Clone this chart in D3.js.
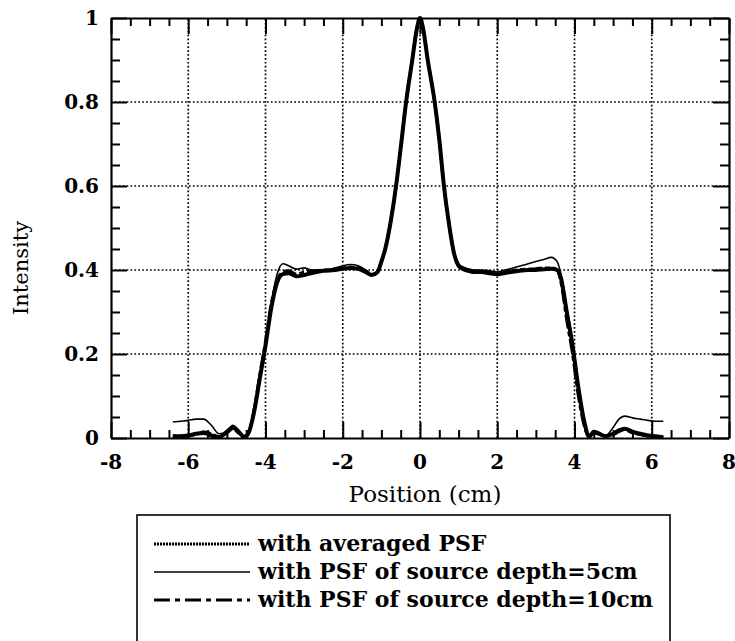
<!DOCTYPE html>
<html>
<head>
<meta charset="utf-8">
<script src="https://cdn.jsdelivr.net/npm/d3@7"></script>
<style>
  body { margin: 0; background: #fff; }
  svg { display: block; }
  text { font-family: "DejaVu Serif", serif; fill: #000; }
</style>
</head>
<body>
<svg id="chart" width="735" height="641"></svg>
<script>
// posiciones (cm) compartidas por las tres curvas
const position = [-6.4, -6.2, -6.0, -5.8, -5.6, -5.4, -5.2, -5.0, -4.85, -4.7,
  -4.55, -4.45, -4.3, -4.15, -4.0, -3.85, -3.7, -3.55, -3.4, -3.2,
  -3.0, -2.8, -2.5, -2.2, -2.0, -1.8, -1.6, -1.4, -1.25, -1.1,
  -1.0, -0.9, -0.75, -0.62, -0.5, -0.36, -0.2, -0.08, 0, 0.08,
  0.2, 0.38, 0.5, 0.62, 0.75, 0.88, 1.0, 1.1, 1.25, 1.4,
  1.6, 1.8, 2.0, 2.2, 2.5, 2.8, 3.0, 3.2, 3.4, 3.55,
  3.65, 3.8, 3.95, 4.1, 4.25, 4.38, 4.5, 4.65, 4.8, 5.0,
  5.15, 5.3, 5.5, 5.7, 5.9, 6.1, 6.3];

const avgPSF = [0.005, 0.004, 0.006, 0.010, 0.012, 0.006, 0.002, 0.015, 0.025, 0.015,
  0.003, 0.010, 0.060, 0.140, 0.220, 0.310, 0.370, 0.390, 0.392, 0.385,
  0.388, 0.393, 0.398, 0.400, 0.403, 0.405, 0.403, 0.395, 0.388, 0.395,
  0.420, 0.450, 0.520, 0.600, 0.690, 0.800, 0.900, 0.975, 1.000, 0.975,
  0.900, 0.800, 0.710, 0.600, 0.510, 0.440, 0.410, 0.403, 0.398, 0.395,
  0.395, 0.392, 0.390, 0.393, 0.397, 0.400, 0.400, 0.402, 0.403, 0.400,
  0.380, 0.300, 0.220, 0.120, 0.040, 0.003, 0.015, 0.010, 0.004, 0.010,
  0.018, 0.022, 0.015, 0.010, 0.006, 0.004, 0.002];

const depth5 = [0.038, 0.040, 0.042, 0.045, 0.045, 0.030, 0.010, 0.015, 0.030, 0.020,
  0.004, 0.010, 0.060, 0.140, 0.220, 0.320, 0.390, 0.415, 0.410, 0.402,
  0.405, 0.400, 0.400, 0.405, 0.410, 0.413, 0.410, 0.400, 0.390, 0.395,
  0.420, 0.450, 0.520, 0.600, 0.690, 0.800, 0.900, 0.975, 0.995, 0.975,
  0.900, 0.800, 0.710, 0.600, 0.510, 0.445, 0.415, 0.408, 0.403, 0.400,
  0.400, 0.398, 0.395, 0.400, 0.407, 0.415, 0.420, 0.425, 0.430, 0.420,
  0.390, 0.310, 0.230, 0.130, 0.045, 0.005, 0.018, 0.012, 0.005, 0.025,
  0.045, 0.052, 0.048, 0.045, 0.042, 0.040, 0.040];

const depth10 = [0.003, 0.004, 0.006, 0.008, 0.015, 0.010, 0.003, 0.012, 0.022, 0.012,
  0.003, 0.010, 0.065, 0.150, 0.230, 0.320, 0.375, 0.395, 0.398, 0.390,
  0.395, 0.397, 0.400, 0.402, 0.405, 0.407, 0.405, 0.397, 0.390, 0.395,
  0.420, 0.450, 0.520, 0.600, 0.690, 0.800, 0.900, 0.975, 0.995, 0.975,
  0.900, 0.800, 0.710, 0.600, 0.510, 0.440, 0.410, 0.403, 0.398, 0.395,
  0.396, 0.393, 0.392, 0.395, 0.400, 0.402, 0.403, 0.405, 0.405, 0.400,
  0.370, 0.280, 0.200, 0.100, 0.030, 0.003, 0.012, 0.008, 0.004, 0.008,
  0.015, 0.020, 0.012, 0.008, 0.005, 0.003, 0.001];

const xTicks = [-8, -6, -4, -2, 0, 2, 4, 6, 8];
const yTicks = [0, 0.2, 0.4, 0.6, 0.8, 1];
const yTickLabels = ["0", "0.2", "0.4", "0.6", "0.8", "1"];
const legendLabels = ["with  averaged PSF", "with PSF of source depth=5cm", "with PSF of source depth=10cm"];

const svg = d3.select("#chart");
const x = d3.scaleLinear().domain([-8, 8]).range([111, 729]);
const y = d3.scaleLinear().domain([0, 1]).range([438, 18]);

// rejilla punteada
const grid = svg.append("g");
grid.selectAll(".gx").data(xTicks.slice(1, -1)).enter().append("line")
  .attr("x1", d => x(d)).attr("x2", d => x(d))
  .attr("y1", y(0)).attr("y2", y(1))
  .attr("stroke", "#000").attr("stroke-width", 1.7).attr("stroke-dasharray", "1.7,2.2");
grid.selectAll(".gy").data(yTicks.slice(1, -1)).enter().append("line")
  .attr("x1", x(-8)).attr("x2", x(8))
  .attr("y1", d => y(d)).attr("y2", d => y(d))
  .attr("stroke", "#000").attr("stroke-width", 1.7).attr("stroke-dasharray", "1.7,2.2");

// ejes con marcas hacia dentro en los cuatro lados
const xMinor = d3.range(-8, 8.01, 0.5);
const yMinor = d3.range(0, 1.001, 0.05);
const tickLen = v => (Math.abs(v / 2 - Math.round(v / 2)) < 1e-6 ? 16 : 8);
const tickLenY = v => (Math.abs(v * 5 - Math.round(v * 5)) < 1e-6 ? 16 : 9);

svg.append("g").attr("transform", `translate(0,${y(0)})`)
  .call(d3.axisBottom(x).tickValues(xMinor).tickSize(0).tickFormat(""))
  .call(g => g.selectAll(".tick line").attr("y2", d => -tickLen(d)));
svg.append("g").attr("transform", `translate(0,${y(1)})`)
  .call(d3.axisTop(x).tickValues(xMinor).tickSize(0).tickFormat(""))
  .call(g => g.selectAll(".tick line").attr("y2", d => tickLen(d)));
svg.append("g").attr("transform", `translate(${x(-8)},0)`)
  .call(d3.axisLeft(y).tickValues(yMinor).tickSize(0).tickFormat(""))
  .call(g => g.selectAll(".tick line").attr("x2", d => tickLenY(d)));
svg.append("g").attr("transform", `translate(${x(8)},0)`)
  .call(d3.axisRight(y).tickValues(yMinor).tickSize(0).tickFormat(""))
  .call(g => g.selectAll(".tick line").attr("x2", d => -tickLenY(d)));

svg.selectAll(".domain").attr("stroke", "#000").attr("stroke-width", 2.2);
svg.selectAll(".tick line").attr("stroke", "#000").attr("stroke-width", 2);

// etiquetas
svg.append("g").selectAll("text").data(xTicks).enter().append("text")
  .attr("x", d => x(d)).attr("y", y(0) + 31)
  .attr("text-anchor", "middle").style("font-size", "20px").style("font-weight", "bold")
  .text(d => d);
svg.append("g").selectAll("text").data(yTicks).enter().append("text")
  .attr("x", x(-8) - 12).attr("y", d => y(d) + 7)
  .attr("text-anchor", "end").style("font-size", "20px").style("font-weight", "bold")
  .text((d, i) => yTickLabels[i]);

svg.append("text").attr("x", 425).attr("y", 502)
  .attr("text-anchor", "middle").style("font-size", "23px")
  .text("Position (cm)");
svg.append("text").attr("transform", "translate(28,268) rotate(-90)")
  .attr("text-anchor", "middle").style("font-size", "21px")
  .text("Intensity");

// curvas
const line = vals => d3.line()
  .x((d, i) => x(position[i]))
  .y(d => y(d))
  .curve(d3.curveMonotoneX)(vals);

svg.append("path").attr("d", line(depth5))
  .attr("fill", "none").attr("stroke", "#000").attr("stroke-width", 1.6);
svg.append("path").attr("d", line(depth10))
  .attr("fill", "none").attr("stroke", "#000").attr("stroke-width", 3)
  .attr("stroke-dasharray", "14,3,5,3");
svg.append("path").attr("d", line(avgPSF))
  .attr("fill", "none").attr("stroke", "#000").attr("stroke-width", 4);

// leyenda
const legend = svg.append("g");
legend.append("rect").attr("x", 137).attr("y", 515).attr("width", 533).attr("height", 140)
  .attr("fill", "none").attr("stroke", "#000").attr("stroke-width", 1.6);
const legStyles = [
  { w: 3, dash: "2,1" },
  { w: 1.6, dash: null },
  { w: 3.2, dash: "16,5,5,5" }
];
legendLabels.forEach((lab, i) => {
  const ly = 544 + i * 28;
  legend.append("line").attr("x1", 154).attr("x2", 250).attr("y1", ly).attr("y2", ly)
    .attr("stroke", "#000").attr("stroke-width", legStyles[i].w)
    .attr("stroke-dasharray", legStyles[i].dash);
  legend.append("text").attr("x", 258).attr("y", ly + 7)
    .style("font-size", "22px").style("font-weight", "bold")
    .text(lab);
});
</script>
</body>
</html>
